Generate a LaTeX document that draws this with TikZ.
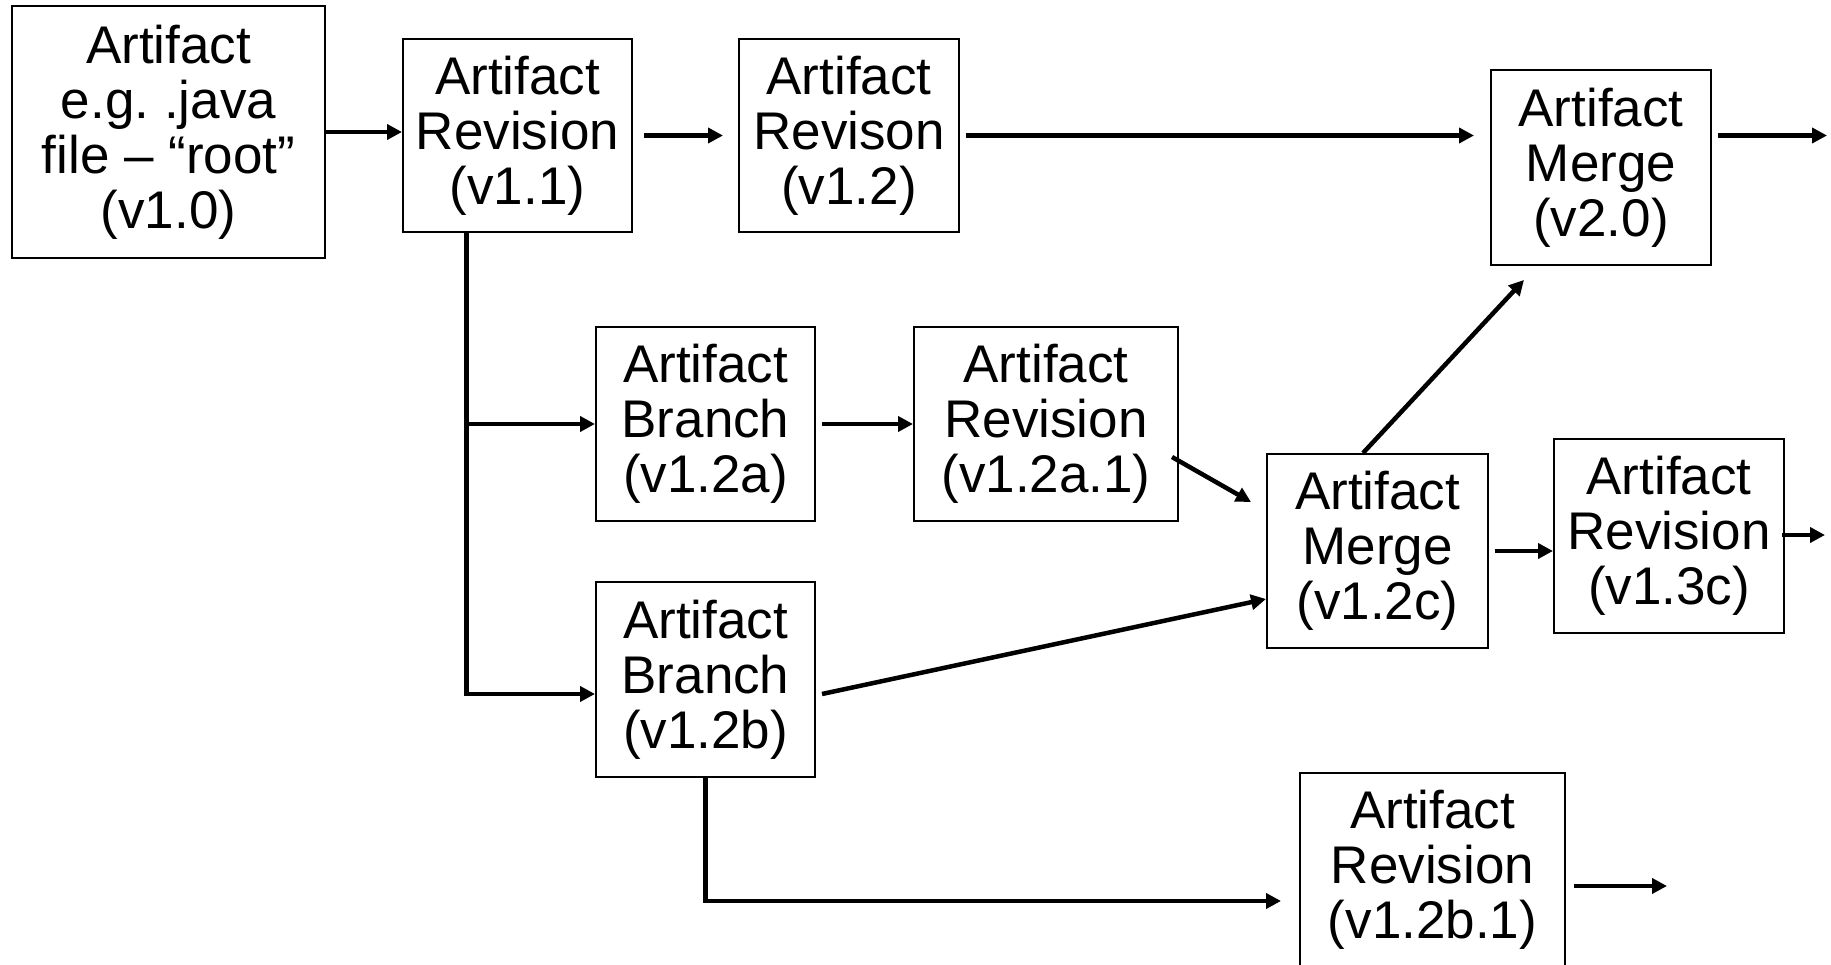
\documentclass[tikz,border=0pt]{standalone}
\usepackage{fontspec}
\setmainfont{Liberation Sans}
\usetikzlibrary{arrows.meta,calc}
\tikzset{
 box/.style={draw, line width=2pt, align=center, inner sep=0pt, font=\fontsize{53}{55}\selectfont\frenchspacing},
 arr/.style={line width=4.5pt, -{Triangle[length=15pt,width=15pt]}},
}
\begin{document}
\begin{tikzpicture}[x=1pt,y=-1pt]
\useasboundingbox (0,0) rectangle (1831,965);
\node[box, minimum width=313pt, minimum height=252pt] (root) at (168.5,132) {Artifact\\e.g. .java\\file – “root”\\(v1.0)};
\node[box, minimum width=229pt, minimum height=193pt] (v11) at (517.5,135.5) {Artifact\\Revision\\(v1.1)};
\node[box, minimum width=220pt, minimum height=193pt] (v12) at (849,135.5) {Artifact\\Revison\\(v1.2)};
\node[box, minimum width=220pt, minimum height=195pt] (v20) at (1601,167.5) {Artifact\\Merge\\(v2.0)};
\node[box, minimum width=219pt, minimum height=194pt] (v12a) at (705.5,424) {Artifact\\Branch\\(v1.2a)};
\node[box, minimum width=264pt, minimum height=194pt] (v12a1) at (1046,424) {Artifact\\Revision\\(v1.2a.1)};
\node[box, minimum width=221pt, minimum height=194pt] (v12c) at (1377.5,551) {Artifact\\Merge\\(v1.2c)};
\node[box, minimum width=230pt, minimum height=194pt] (v13c) at (1669,536) {Artifact\\Revision\\(v1.3c)};
\node[box, minimum width=219pt, minimum height=195pt] (v12b) at (705.5,679.5) {Artifact\\Branch\\(v1.2b)};
\node[box, minimum width=265pt, minimum height=194pt] (v12b1) at (1432.5,870) {Artifact\\Revision\\(v1.2b.1)};

\coordinate (o1) at (1827,135.5);
\coordinate (o2) at (1825,535);
\coordinate (o3) at (1667,886);
\coordinate (tt) at ($(v11.south west)!0.28!(v11.south east)$);
\coordinate (b2) at ($(v12b.west)+(0,14.5)$);
\coordinate (e5) at ($(v12b1.west)+(-18,31)$);

\draw[arr] (root.east) -- (root.east -| v11.west);
\draw[arr, shorten <=11pt, shorten >=15pt] (v11.east) -- (v12.west);
\draw[arr, shorten <=6pt, shorten >=16pt] (v12.east) -- (v12.east -| v20.west);
\draw[arr, shorten <=6pt] (v20.east |- v12.east) -- (o1);
\draw[arr] (tt) |- (b2);
\draw[arr] (tt |- v12a.west) -- (v12a.west);
\draw[arr, shorten <=6pt] (v12a.east) -- (v12a1.west);
\draw[arr] ($(v12a1.east)+(-7,33)$) -- ($(v12c.west)+(-15,-49)$);
\draw[arr] ($(v12b.east)+(6,14.5)$) -- ($(v12c.west)+(0,48)$);
\draw[arr] ($(v12c.north)+(-14.5,0)$) -- ($(v20.south)+(-77,14)$);
\draw[arr, shorten <=6pt] (v12c.east) -- (v12c.east -| v13c.west);
\draw[arr] ($(v13c.east)+(-3,-1)$) -- (o2);
\draw[arr] (v12b.south) |- (e5);
\draw[arr] ($(v12b1.east)+(8,16)$) -- (o3);
\end{tikzpicture}
\end{document}
